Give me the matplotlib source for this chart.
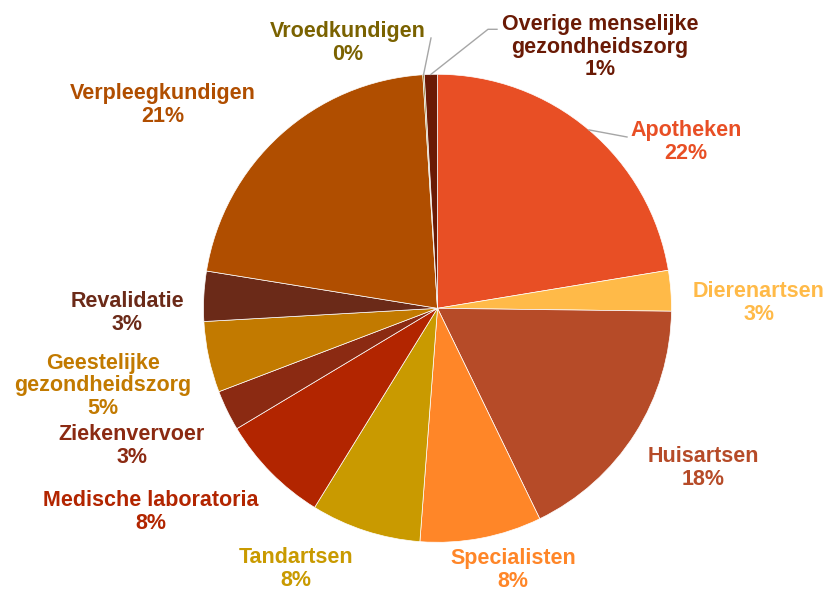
import numpy as np
import matplotlib
matplotlib.use("Agg")
import matplotlib.pyplot as plt

# aandeel per beroepsgroep (%)
labels = ["Apotheken", "Dierenartsen", "Huisartsen", "Specialisten", "Tandartsen",
          "Medische laboratoria", "Ziekenvervoer", "Geestelijke\ngezondheidszorg",
          "Revalidatie", "Verpleegkundigen", "Vroedkundigen",
          "Overige menselijke\ngezondheidszorg"]
shares = [22.4, 2.8, 17.6, 8.4, 7.6, 7.6, 2.8, 4.9, 3.45, 21.45, 0.1, 0.9]
colors = ["#E84F25", "#FFBA48", "#B64B28", "#FF8628", "#C99A00", "#B22500",
          "#8B2A12", "#C27A00", "#6B2A18", "#B04E00", "#7A6200", "#6A1A05"]

# plaats van de labels (pixels, vanaf linksboven)
label_pos = [(686, 142), (759, 303), (703, 468), (513, 570), (296, 569),
             (151, 512), (132, 446), (103, 386), (127, 313), (163, 105),
             (348, 43), (600, 47)]

W, H = 828, 595
fig = plt.figure(figsize=(W / 100, H / 100), dpi=100)
ax = fig.add_axes([0, 0, 1, 1])

cx, cy, r = 437.5, H - 308.3, 234
wedges, _ = ax.pie(shares, colors=colors, startangle=90, counterclock=False,
                   center=(cx, cy), radius=r, frame=True,
                   wedgeprops=dict(edgecolor="white", linewidth=0.5))
ax.set_xlim(0, W)
ax.set_ylim(0, H)
ax.set_aspect("equal")
ax.axis("off")

total = sum(shares)
for lab, val, col, (x, y) in zip(labels, shares, colors, label_pos):
    ax.text(x, H - y, f"{lab}\n{val / total * 100:.0f}%", color=col,
            ha="center", va="center", fontsize=15.5, fontweight="bold",
            family="Liberation Sans", linespacing=1.12)

# verbindingslijnen voor de kleine en bovenste segmenten
def edge_point(w):
    a = np.deg2rad((w.theta1 + w.theta2) / 2)
    return cx + r * np.cos(a), cy + r * np.sin(a)

leaders = {0: [(627, 137)], 10: [(431, 38)], 11: [(488, 29.3), (497, 29.3)]}
for i, pts in leaders.items():
    x0, y0 = edge_point(wedges[i])
    xs = [x0] + [p[0] for p in pts]
    ys = [y0] + [H - p[1] for p in pts]
    ax.plot(xs, ys, color="#A6A6A6", lw=1)

fig.savefig("out.png", dpi=100, facecolor="white")
